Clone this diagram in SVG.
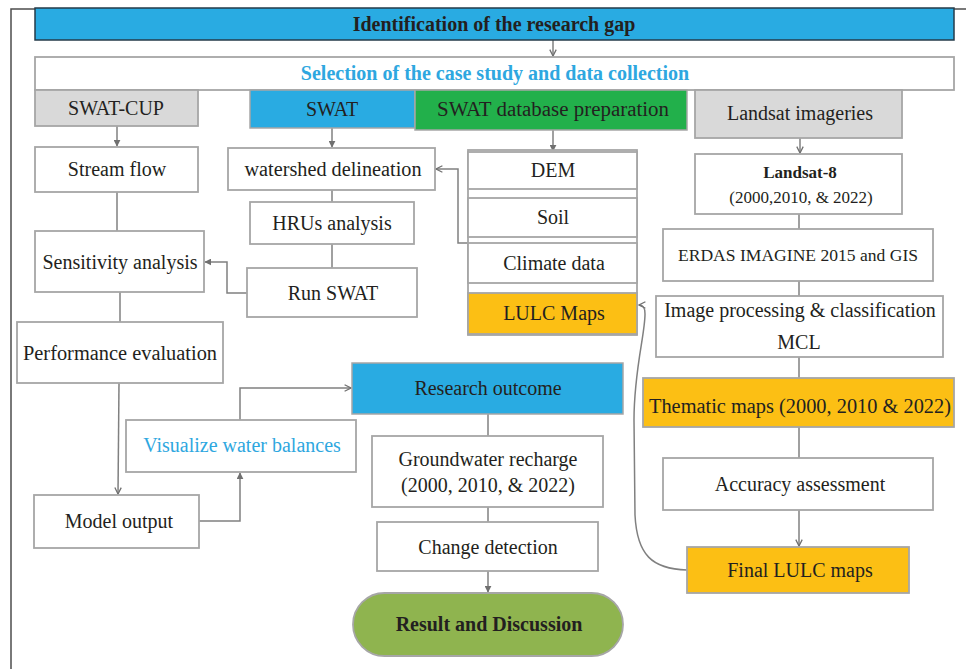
<svg xmlns="http://www.w3.org/2000/svg" width="966" height="669" viewBox="0 0 966 669">
<defs>
<style>
.bx{fill:#fff;stroke:#a6a6a6;stroke-width:1.8}
.blue{fill:#29abe2;stroke:#a6a6a6;stroke-width:1.5}
.gray{fill:#d9d9d9;stroke:#a6a6a6;stroke-width:1.8}
.green{fill:#22b04b;stroke:#a6a6a6;stroke-width:1.5}
.orange{fill:#fcbf14;stroke:#a6a6a6;stroke-width:1.8}
.res{fill:#8fb44f;stroke:#a6a6a6;stroke-width:1.8}
text{font-family:"Liberation Serif","Times New Roman",serif;font-size:20px;fill:#231f20;text-anchor:middle}
.b{font-weight:bold}
.bt{fill:#2ea7e0}
.s17{font-size:17px}
.cn path{fill:none;stroke:#808080;stroke-width:1.5}
</style>
<marker id="af" viewBox="0 0 10 10" refX="9" refY="5" markerWidth="7" markerHeight="7" markerUnits="userSpaceOnUse" orient="auto">
<path d="M0,0 L10,5 L0,10 z" fill="#707070"/>
</marker>
<marker id="ao" viewBox="0 0 10 10" refX="9" refY="5" markerWidth="8" markerHeight="8" markerUnits="userSpaceOnUse" orient="auto">
<path d="M1,1 L9,5 L1,9" fill="none" stroke="#707070" stroke-width="1.6"/>
</marker>
</defs>
<rect width="966" height="669" fill="#fff"/>
<path d="M11 669 V9 H966" fill="none" stroke="#4d4d4d" stroke-width="1.5"/>

<g class="cn" id="connectors">
<path d="M553 40 V56" marker-end="url(#ao)"/>
<path d="M117 126 V146" marker-end="url(#af)"/>
<path d="M332 128 V147" marker-end="url(#af)"/>
<path d="M553 130 V151" marker-end="url(#af)"/>
<path d="M800 138 V153" marker-end="url(#ao)"/>
<path d="M117 192 V231"/>
<path d="M120 292 V322"/>
<path d="M119 383 L118 494" marker-end="url(#ao)"/>
<path d="M332 190 V202"/>
<path d="M332 244 V268"/>
<path d="M247 293 H227 V262 H205" marker-end="url(#af)"/>
<path d="M468 243 H458 V169 H436" marker-end="url(#ao)"/>
<path d="M799 214 V229"/>
<path d="M799 281 V296"/>
<path d="M799 357 V378"/>
<path d="M799 427 V458"/>
<path d="M799 510 V546" marker-end="url(#ao)"/>
<path d="M687 570 C652 569 637 555 635 515 L634 420 C634 370 645 335 645 314 C645 307 643 305 639 305" marker-end="url(#ao)"/>
<path d="M199 521 H240 V473" marker-end="url(#af)"/>
<path d="M240 420 V388 H351" marker-end="url(#ao)"/>
<path d="M488 414 V436"/>
<path d="M488 507 V522"/>
<path d="M488 571 V592" marker-end="url(#af)"/>
</g>

<g id="title"><rect x="35" y="8" width="919" height="32" fill="#29abe2" stroke="#243b4a" stroke-width="1.5"/><text class="b" x="494" y="31">Identification of the research gap</text></g>
<g id="selection"><rect class="bx" x="35" y="57" width="919" height="33"/><text class="b bt" x="495" y="80">Selection of the case study and data collection</text></g>
<g id="swatcup"><rect class="gray" x="35" y="90" width="163" height="36"/><text x="116" y="115">SWAT-CUP</text></g>
<g id="swat"><rect class="blue" x="250" y="90" width="165" height="38"/><text x="332" y="116">SWAT</text></g>
<g id="swatdb"><rect class="green" x="415" y="90" width="272" height="40"/><text x="553" y="116" textLength="232" lengthAdjust="spacingAndGlyphs">SWAT database preparation</text></g>
<g id="landsat"><rect class="gray" x="695" y="90" width="207" height="48"/><text x="800" y="120">Landsat imageries</text></g>

<g id="streamflow"><rect class="bx" x="35" y="147" width="163" height="45"/><text x="117" y="176">Stream flow</text></g>
<g id="sensitivity"><rect class="bx" x="35" y="231" width="169" height="61"/><text x="120" y="269">Sensitivity analysis</text></g>
<g id="performance"><rect class="bx" x="17" y="322" width="206" height="61"/><text x="120" y="360" textLength="194" lengthAdjust="spacingAndGlyphs">Performance evaluation</text></g>

<g id="watershed"><rect class="bx" x="228" y="148" width="207" height="42"/><text x="333" y="176" textLength="177" lengthAdjust="spacingAndGlyphs">watershed delineation</text></g>
<g id="hrus"><rect class="bx" x="250" y="202" width="164" height="42"/><text x="332" y="230">HRUs analysis</text></g>
<g id="runswat"><rect class="bx" x="247" y="268" width="170" height="49"/><text x="333" y="300">Run SWAT</text></g>

<g id="dbstack"><rect class="bx" x="468" y="150" width="169" height="185"/>
<g id="dem"><rect class="bx" x="468" y="152" width="169" height="37"/><text x="553" y="177">DEM</text></g>
<g id="soil"><rect class="bx" x="468" y="198" width="169" height="39"/><text x="553" y="224">Soil</text></g>
<g id="climate"><rect class="bx" x="468" y="243" width="169" height="40"/><text x="554" y="270">Climate data</text></g>
<g id="lulc"><rect class="orange" x="468" y="293" width="169" height="41"/><text x="554" y="320">LULC Maps</text></g>
</g>

<g id="landsat8"><rect class="bx" x="695" y="154" width="207" height="60"/><text class="b s17" x="800" y="178">Landsat-8</text><text class="s17" x="801" y="203">(2000,2010, &amp; 2022)</text></g>
<g id="erdas"><rect class="bx" x="663" y="229" width="270" height="52"/><text class="s17" x="798" y="261" textLength="240" lengthAdjust="spacingAndGlyphs">ERDAS IMAGINE 2015 and GIS</text></g>
<g id="imgproc"><rect class="bx" x="656" y="296" width="287" height="61"/><text x="800" y="317">Image processing &amp; classification</text><text x="799" y="349">MCL</text></g>
<g id="thematic"><rect class="orange" x="643" y="378" width="311" height="49"/><text x="800" y="413" textLength="302" lengthAdjust="spacingAndGlyphs">Thematic maps (2000, 2010 &amp; 2022)</text></g>
<g id="accuracy"><rect class="bx" x="663" y="458" width="270" height="52"/><text x="800" y="491">Accuracy assessment</text></g>
<g id="final"><rect class="orange" x="687" y="547" width="222" height="46"/><text x="800" y="577">Final LULC maps</text></g>

<g id="research"><rect class="blue" x="352" y="363" width="271" height="51"/><text x="488" y="395">Research outcome</text></g>
<g id="groundwater"><rect class="bx" x="372" y="436" width="231" height="71"/><text x="488" y="466">Groundwater recharge</text><text x="488" y="492">(2000, 2010, &amp; 2022)</text></g>
<g id="change"><rect class="bx" x="377" y="522" width="221" height="49"/><text x="488" y="554">Change detection</text></g>
<g id="result"><rect class="res" x="353" y="593" width="270" height="63" rx="31.5"/><text class="b" x="489" y="631">Result and Discussion</text></g>

<g id="visualize"><rect class="bx" x="126" y="420" width="230" height="52"/><text class="bt" x="242" y="452">Visualize water balances</text></g>
<g id="model"><rect class="bx" x="34" y="495" width="165" height="53"/><text x="119" y="528">Model output</text></g>
</svg>
